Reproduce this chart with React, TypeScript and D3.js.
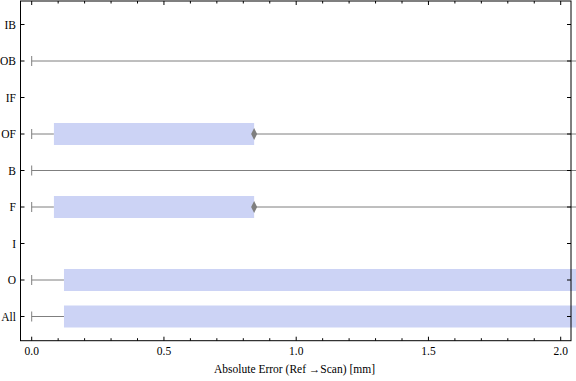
import React from "react";
import * as d3 from "d3";

// Categories from bottom to top
const categories = ["All", "O", "I", "F", "B", "OF", "IF", "OB", "IB"];
// Box-whisker statistics per category (null = no data)
const minVals: (number | null)[] = [0, 0, null, 0, 0, 0, null, 0, null];
const q1Vals: (number | null)[] = [0.122, 0.122, null, 0.084, 2.6, 0.084, null, 2.6, null];
const medianVals: (number | null)[] = [2.4, 2.4, null, 0.841, 3.5, 0.841, null, 3.5, null];
const q3Vals: (number | null)[] = [4.5, 4.5, null, 0.841, 5.0, 0.841, null, 5.0, null];
const maxVals: (number | null)[] = [9.0, 9.0, null, 6.0, 9.0, 6.0, null, 9.0, null];

const xMajorTicks = [0, 0.5, 1.0, 1.5, 2.0];
const xMinorTicks = d3.range(0, 21).map((i) => i / 10);
const xLabel = "Absolute Error (Ref \u2192Scan) [mm]";

const W = 576;
const H = 381;
const left = 20.5;
const right = 571;
const top = 1;
const bottom = 340.7;

export default function App() {
  const x = d3.scaleLinear().domain([0, 2]).range([31.7, 560.7]);
  const y = d3.scaleLinear().domain([1, 9]).range([316.5, 24.5]);
  const boxH = 22;
  const font = "'Liberation Serif', 'Times New Roman', serif";
  const gray = "#7f7f7f";
  const fill = "#ccd3f5";
  const clamp = (v: number) => Math.min(x(v), W + 2);

  return (
    <svg
      width={W}
      height={H}
      style={{ position: "fixed", left: 0, top: 0, background: "#fff" }}
    >
      {categories.map((c, i) => {
        const yy = y(i + 1);
        const mn = minVals[i];
        if (mn === null) return null;
        const q1 = q1Vals[i] as number;
        const q3 = q3Vals[i] as number;
        const md = medianVals[i] as number;
        const mx = maxVals[i] as number;
        return (
          <g key={c}>
            <line x1={x(mn)} x2={clamp(q1)} y1={yy} y2={yy} stroke={gray} strokeWidth={1} />
            <line x1={x(mn)} x2={x(mn)} y1={yy - 5} y2={yy + 5} stroke={gray} strokeWidth={1} />
            {x(q1) < W && (
              <rect x={x(q1)} y={yy - boxH / 2} width={clamp(q3) - x(q1)} height={boxH} fill={fill} />
            )}
            {x(q3) < W && (
              <line x1={x(q3)} x2={clamp(mx)} y1={yy} y2={yy} stroke={gray} strokeWidth={1} />
            )}
            {x(md) < W && (
              <path
                d={`M${x(md)},${yy - 6}L${x(md) + 3},${yy}L${x(md)},${yy + 6}L${x(md) - 3},${yy}Z`}
                fill={gray}
              />
            )}
          </g>
        );
      })}
      {/* frame */}
      <rect x={left} y={top} width={right - left} height={bottom - top} fill="none" stroke="#000" strokeWidth={1} />
      {/* x ticks bottom & top */}
      {xMinorTicks.map((t) => {
        const isMajor = xMajorTicks.some((m) => Math.abs(m - t) < 1e-9);
        const len = isMajor ? 4 : 2.5;
        return (
          <g key={"xt" + t}>
            <line x1={x(t)} x2={x(t)} y1={bottom} y2={bottom - len} stroke="#000" />
            <line x1={x(t)} x2={x(t)} y1={top} y2={top + len} stroke="#000" />
          </g>
        );
      })}
      {xMajorTicks.map((t) => (
        <text key={"xl" + t} x={x(t)} y={355} textAnchor="middle" fontFamily={font} fontSize={11.5} fill="#000">
          {d3.format(".1f")(t)}
        </text>
      ))}
      {/* y ticks & labels */}
      {categories.map((c, i) => {
        const yy = y(i + 1);
        return (
          <g key={"yt" + c}>
            <line x1={left} x2={left + 4} y1={yy} y2={yy} stroke="#000" />
            <line x1={right} x2={right - 4} y1={yy} y2={yy} stroke="#000" />
            <text x={16} y={yy + 4} textAnchor="end" fontFamily={font} fontSize={11.5} fill="#000">
              {c}
            </text>
          </g>
        );
      })}
      <text x={294.5} y={373.3} textAnchor="middle" fontFamily={font} fontSize={11.5} fill="#000">
        {xLabel}
      </text>
    </svg>
  );
}
